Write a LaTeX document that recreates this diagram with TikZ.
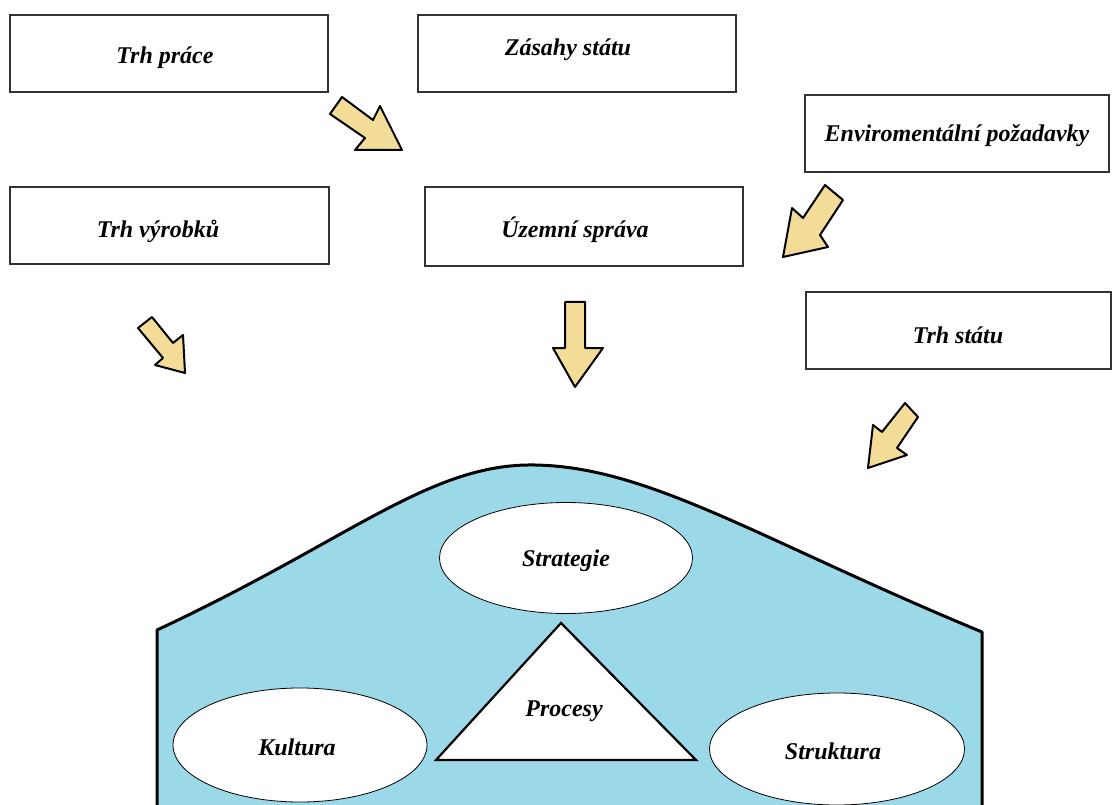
\documentclass[tikz,border=0pt]{standalone}
\usepackage{fontspec}
\setmainfont{Liberation Serif}
\usetikzlibrary{shapes.geometric}
\definecolor{boxline}{HTML}{333333}
\definecolor{arrowfill}{HTML}{F2DC98}
\definecolor{orgfill}{HTML}{9BD9E8}
\begin{document}
\begin{tikzpicture}[x=1pt,y=-1pt,
  lbl/.style={font=\fontsize{24}{28}\selectfont\bfseries\itshape},
  envbox/.style={draw=boxline,line width=1.4pt,fill=white,rectangle,inner sep=0pt},
  blockarrow/.style={draw=black,line width=2pt,fill=arrowfill,line join=round},
  part/.style={draw=black,line width=0.8pt,fill=white,ellipse,inner sep=0pt,lbl}]
\useasboundingbox (0,0) rectangle (1112,805);

% environment boxes
\node[envbox,minimum width=318pt,minimum height=77pt] (prace) at (169,53.5) {};
\node[lbl] at (165,58) {Trh práce};
\node[envbox,minimum width=318pt,minimum height=77pt] (zasahy) at (577,53.5) {};
\node[lbl] at (568,50) {Zásahy státu};
\node[envbox,minimum width=304pt,minimum height=77pt] (env) at (957,133.5) {};
\node[lbl] at (957,136) {Enviromentální požadavky};
\node[envbox,minimum width=319pt,minimum height=77pt] (vyrobku) at (169.5,225.5) {};
\node[lbl] at (158,231) {Trh výrobků};
\node[envbox,minimum width=318pt,minimum height=79pt] (sprava) at (584,226.5) {};
\node[lbl] at (575,230) {Územní správa};
\node[envbox,minimum width=305pt,minimum height=77pt] (statu) at (958.5,330.5) {};
\node[lbl] at (958,335) {Trh státu};

% block arrows
\draw[blockarrow] (342,97) -- (373,120) -- (380,106) -- (402,150) -- (355,150) -- (365,138) -- (330,114) -- cycle;
\draw[blockarrow] (825,185) -- (843,200) -- (820,235) -- (828,247) -- (783,257) -- (792,208) -- (803,218) -- cycle;
\draw[blockarrow] (152,317) -- (173,343) -- (183,335) -- (185,373) -- (155,365) -- (163,358) -- (138,328) -- cycle;
\draw[blockarrow] (565,302) -- (585,302) -- (585,348) -- (603,348) -- (575,387) -- (553,348) -- (565,348) -- cycle;
\draw[blockarrow] (905,403) -- (918,417) -- (897,448) -- (907,455) -- (868,468) -- (873,425) -- (882,432) -- cycle;

% organisation body
\fill[orgfill] (157,806) -- (157,630) .. controls (350,540) and (430,463) .. (535,465)
  .. controls (650,467) and (760,540) .. (982,632) -- (982,806) -- cycle;
\draw[line width=3pt,line join=round] (157,806) -- (157,630) .. controls (350,540) and (430,463) .. (535,465)
  .. controls (650,467) and (760,540) .. (982,632) -- (982,806);

% inner parts
\node[part,minimum width=253pt,minimum height=111pt] (strategie) at (566,558) {};
\node[lbl] at (566,561) {Strategie};
\node[part,minimum width=254pt,minimum height=114pt] (kultura) at (300,745) {};
\node[lbl] at (297,747) {Kultura};
\node[part,minimum width=255pt,minimum height=112pt] (struktura) at (837,749) {};
\node[lbl] at (833,751) {Struktura};
\draw[line width=2.2pt,fill=white,line join=miter] (561,623) -- (696,760) -- (436,760) -- cycle;
\node[lbl] (procesy) at (564,711) {Procesy};
\end{tikzpicture}
\end{document}
